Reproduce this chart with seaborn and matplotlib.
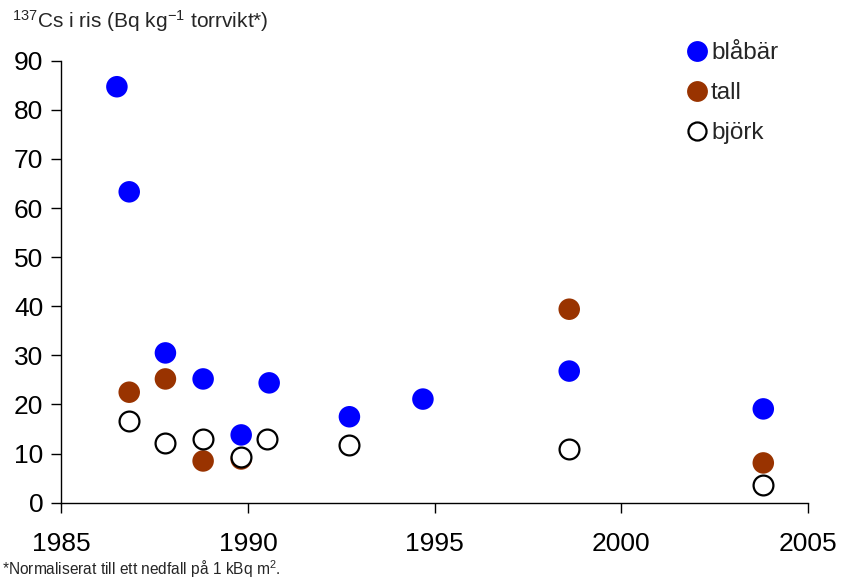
import matplotlib
matplotlib.use("Agg")
import matplotlib.pyplot as plt
import seaborn as sns
import pandas as pd
from matplotlib.lines import Line2D

# Data
blabar_year = [1986.49, 1986.82, 1987.79, 1988.80, 1989.82, 1990.57, 1992.72, 1994.69, 1998.61, 2003.81]
blabar_val = [84.7, 63.3, 30.5, 25.2, 13.8, 24.4, 17.5, 21.1, 26.8, 19.1]

tall_year = [1986.82, 1987.79, 1988.80, 1989.82, 1998.61, 2003.81]
tall_val = [22.5, 25.2, 8.5, 8.9, 39.4, 8.1]

bjork_year = [1986.82, 1987.79, 1988.80, 1989.82, 1990.52, 1992.72, 1998.61, 2003.81]
bjork_val = [16.7, 12.2, 13.0, 9.3, 13.0, 11.8, 10.9, 3.7]

series_names = ["blåbär", "tall", "björk"]
x_ticks = [1985, 1990, 1995, 2000, 2005]
y_ticks = [0, 10, 20, 30, 40, 50, 60, 70, 80, 90]

sns.set_theme(style="ticks")
plt.rcParams["font.family"] = ["Liberation Sans", "DejaVu Sans"]
plt.rcParams["mathtext.default"] = "regular"

df_b = pd.DataFrame({"year": blabar_year, "val": blabar_val})
df_t = pd.DataFrame({"year": tall_year, "val": tall_val})
df_j = pd.DataFrame({"year": bjork_year, "val": bjork_val})

fig = plt.figure(figsize=(8.42, 5.84), dpi=100)
W, H = 842, 584
x0, x1 = 61.3, 807.7
y0, y1 = 502.7, 60.7
ax = fig.add_axes([x0 / W, (H - y0) / H, (x1 - x0) / W, (y0 - y1) / H])

blue = "#0000FF"
brown = "#993300"
s = 240

sns.scatterplot(data=df_b, x="year", y="val", ax=ax, color=blue, s=s,
                edgecolor="none", linewidth=0, zorder=3, legend=False)
sns.scatterplot(data=df_t, x="year", y="val", ax=ax, color=brown, s=s,
                edgecolor="none", linewidth=0, zorder=4, legend=False)
sns.scatterplot(data=df_j, x="year", y="val", ax=ax, facecolor="white", s=s * 0.85,
                edgecolor="black", linewidth=1.6, zorder=5, legend=False)

ax.set_xlim(1985, 2005)
ax.set_ylim(0, 90)
ax.set_xticks(x_ticks)
ax.set_yticks(y_ticks)
ax.set_xticklabels([str(t) for t in x_ticks])
ax.set_yticklabels([str(t) for t in y_ticks])
ax.set_xlabel("")
ax.set_ylabel("")
ax.tick_params(axis="both", direction="out", length=7, width=1, labelsize=19,
               colors="black")
ax.tick_params(axis="x", pad=14)
ax.tick_params(axis="y", pad=6)
for sp in ["top", "right"]:
    ax.spines[sp].set_visible(False)
for sp in ["left", "bottom"]:
    ax.spines[sp].set_color("black")
    ax.spines[sp].set_linewidth(1)

handles = [
    Line2D([], [], marker="o", linestyle="none", markersize=15, markerfacecolor=blue, markeredgecolor="none"),
    Line2D([], [], marker="o", linestyle="none", markersize=15, markerfacecolor=brown, markeredgecolor="none"),
    Line2D([], [], marker="o", linestyle="none", markersize=13, markerfacecolor="white", markeredgecolor="black", markeredgewidth=1.6),
]
fig.legend(handles, series_names, loc="upper left", bbox_to_anchor=(688 / W, 1 - 42 / H),
           frameon=False, fontsize=17.5, handlelength=0.7, handletextpad=0.25,
           labelspacing=0.74, borderpad=0, borderaxespad=0)

fig.text(12 / W, 1 - 28 / H, r"$^{137}$Cs i ris (Bq kg$^{-1}$ torrvikt*)",
         fontsize=15, ha="left", va="baseline")
fig.text(2 / W, 1 - 575 / H, r"*Normaliserat till ett nedfall på 1 kBq m$^{2}$.",
         fontsize=11.2, ha="left", va="baseline")

fig.savefig("out.png", dpi=100, facecolor="white")
